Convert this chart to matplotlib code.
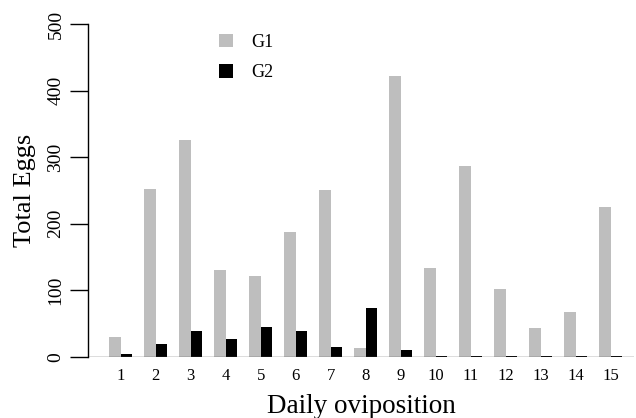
import matplotlib
matplotlib.use("Agg")
import matplotlib.pyplot as plt
from matplotlib.patches import Patch
import numpy as np

days = [str(d) for d in range(1, 16)]
g1 = [30, 252, 326, 130, 121, 187, 251, 13, 422, 133, 287, 102, 43, 67, 225]
g2 = [4, 19, 39, 27, 45, 39, 15, 73, 10, 1, 1, 1, 1, 1, 1]

plt.rcParams['font.family'] = ['Liberation Serif', 'DejaVu Serif']

W, H = 636, 418
fig = plt.figure(figsize=(W / 100, H / 100), dpi=100)
# axes box in pixels: left 88, right 634, y=0 at 357, y=500 at 24
ax = fig.add_axes([88 / W, (H - 357) / H, (634 - 88) / W, (357 - 24) / H])

grey = '#BEBEBE'
idx = np.arange(len(days))
# R barplot style: groups of two unit-wide bars with one unit gap
ax.bar(3 * idx + 1.5, g1, width=1.0, color=grey, label='G1')
ax.bar(3 * idx + 2.5, g2, width=1.0, color='black', label='G2')

ax.set_xlim(-0.8, 46.0)
ax.set_ylim(0, 500)
ax.axhline(0, color='#555555', lw=1.0)

for s in ['top', 'right', 'bottom']:
    ax.spines[s].set_visible(False)
ax.spines['left'].set_linewidth(1.0)

ax.set_yticks([0, 100, 200, 300, 400, 500])
ax.set_yticklabels(['0', '100', '200', '300', '400', '500'], rotation=90, va='center')
ax.tick_params(axis='y', length=13, width=1.0, labelsize=14, pad=4)
ax.set_xticks(3 * idx + 2)
ax.set_xticklabels(days)
ax.tick_params(axis='x', length=0, labelsize=12, pad=8)

ax.set_ylabel('Total Eggs', fontsize=19, labelpad=8)
ax.set_xlabel('Daily oviposition', fontsize=19.5, labelpad=7)

handles = [Patch(facecolor=grey, edgecolor='none'), Patch(facecolor='black', edgecolor='none')]
ax.legend(handles, ['G1', 'G2'], frameon=False, fontsize=13,
          handlelength=0.8, handleheight=0.8, handletextpad=1.0, labelspacing=0.75,
          loc='upper left', bbox_to_anchor=(0.21, 1.02))

fig.savefig('out.png', dpi=100)
